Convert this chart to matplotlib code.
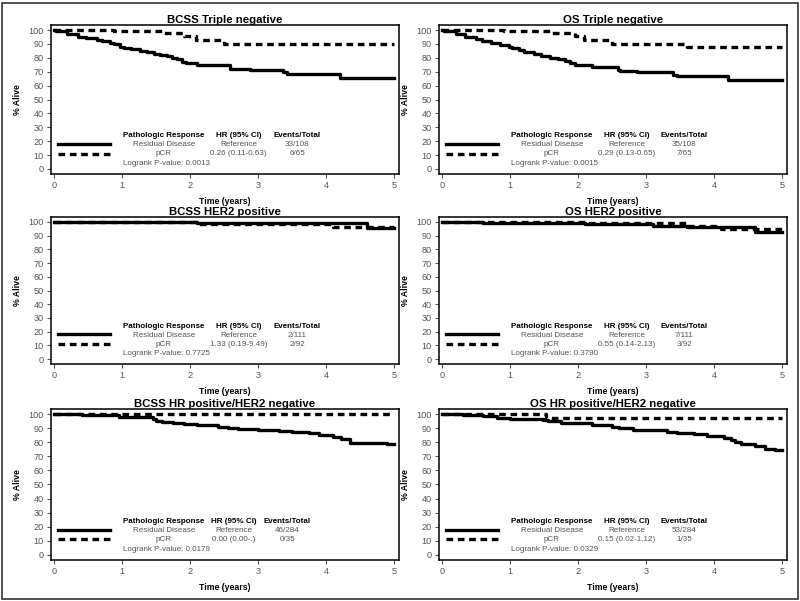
import matplotlib
matplotlib.use("Agg")
import matplotlib.pyplot as plt
from matplotlib.patches import Rectangle

plt.rcParams['font.family'] = ['Liberation Sans', 'DejaVu Sans']

# ---- data ----
titles = ["BCSS Triple negative", "OS Triple negative",
          "BCSS HER2 positive", "OS HER2 positive",
          "BCSS HR positive/HER2 negative", "OS HR positive/HER2 negative"]

# residual disease curves (step times, survival %)
res_t = [
    [0, 0.03, 0.19, 0.34, 0.46, 0.63, 0.7, 0.82, 0.87, 0.97, 1.03, 1.13, 1.26, 1.36, 1.46, 1.56,
     1.66, 1.73, 1.8, 1.88, 1.93, 2.1, 2.59, 2.88, 3.37, 3.42, 4.2, 5.0],
    [0, 0.02, 0.2, 0.33, 0.5, 0.58, 0.72, 0.85, 0.98, 1.03, 1.12, 1.2, 1.35, 1.45, 1.58, 1.7,
     1.8, 1.88, 1.95, 2.2, 2.58, 2.62, 2.87, 3.4, 3.45, 4.2, 5.0],
    [0, 2.1, 4.6, 5.0],
    [0, 0.6, 2.1, 3.1, 3.6, 4.6, 5.0],
    [0, 0.4, 0.75, 0.95, 1.45, 1.5, 1.58, 1.75, 1.9, 2.1, 2.4, 2.55, 2.7, 3.0, 3.3, 3.5, 3.75,
     3.9, 4.1, 4.22, 4.35, 4.55, 4.9, 5.0],
    [0, 0.3, 0.6, 0.8, 1.0, 1.48, 1.55, 1.75, 2.0, 2.2, 2.5, 2.6, 2.8, 3.0, 3.3, 3.45, 3.7,
     3.9, 4.15, 4.25, 4.3, 4.4, 4.6, 4.75, 4.9, 5.0],
]
res_s = [
    [100, 99, 97, 95, 94, 93, 92, 91, 90, 88, 87, 86, 85, 84, 83, 82,
     81, 80, 79, 77, 76, 75, 72, 71, 69.5, 68.3, 65.7, 65.7],
    [100, 99, 97, 95, 93.5, 92, 91, 89.5, 88, 87, 85.5, 84, 83, 81.5, 80, 79,
     77.5, 76, 74.5, 73.5, 71.5, 70.5, 69.5, 67.5, 66.8, 64.2, 64.2],
    [100, 98.9, 95.8, 95.8],
    [100, 99.3, 98.3, 97.4, 96.2, 93, 93],
    [100, 99.5, 99, 98, 96.5, 95, 94.5, 94, 93, 92.5, 91, 90, 89.5, 89, 88, 87, 86.5,
     85, 83.5, 82, 79.5, 79.5, 78.5, 78.5],
    [100, 99.5, 98.5, 97.5, 96.5, 96, 95, 94, 93.5, 92.5, 91, 90, 89, 88.5, 87.5, 86.5, 85.5,
     84.5, 83, 81.5, 80, 79, 77, 75.5, 74.5, 74.5],
]

# pCR curves
pcr_t = [
    [0, 0.87, 1.58, 1.9, 2.09, 2.5, 5.0],
    [0, 0.9, 1.6, 1.95, 2.08, 2.5, 3.6, 5.0],
    [0, 2.1, 4.1, 5.0],
    [0, 2.1, 3.6, 4.1, 5.0],
    [0, 5.0],
    [0, 1.52, 5.0],
]
pcr_s = [
    [100, 99, 97.5, 95.5, 92.5, 89.8, 89.8],
    [100, 99, 97.5, 95.5, 92.5, 90, 87.5, 87.5],
    [100, 98.8, 96, 96],
    [100, 98.9, 97.4, 94.8, 94.8],
    [100, 100],
    [100, 97, 97],
]

hr_text = ["0.26 (0.11-0.63)", "0.29 (0.13-0.65)", "1.33 (0.19-9.49)",
           "0.55 (0.14-2.13)", "0.00 (0.00-.)", "0.15 (0.02-1.12)"]
ev_res = ["33/108", "35/108", "2/111", "7/111", "46/284", "53/284"]
ev_pcr = ["6/65", "7/65", "2/92", "3/92", "0/35", "1/35"]
pvals = ["0.0013", "0.0015", "0.7725", "0.3790", "0.0179", "0.0329"]
hr_x = [2.71, 2.71, 2.71, 2.71, 2.64, 2.71]
ev_x = [3.57, 3.56, 3.57, 3.56, 3.43, 3.56]

W, H = 800, 601
fig = plt.figure(figsize=(8, 6.01), dpi=100)

# panel boxes in pixels: left, top, right, bottom
cols = [(51, 399), (439, 787)]
rows = [(25, 174), (217, 364), (409, 560)]

grey = "#555555"
dash = (0, (2.0, 1.4))

for k in range(6):
    r, c = divmod(k, 2)
    x0, x1 = cols[c]
    y0, y1 = rows[r]
    ax = fig.add_axes([x0 / W, 1 - y1 / H, (x1 - x0) / W, (y1 - y0) / H])
    ax.step(res_t[k], res_s[k], where='post', color='black', lw=2.4)
    ax.step(pcr_t[k], pcr_s[k], where='post', color='black', lw=2.4, linestyle=dash)

    ax.set_xlim(-0.05, 5.07)
    ax.set_ylim(-3.6, 103.6)
    ax.set_xticks(range(6))
    ax.set_yticks(range(0, 101, 10))
    ax.tick_params(direction='out', length=3, width=0.8, color=grey,
                   labelcolor=grey, labelsize=6.6, pad=2)
    for sp in ax.spines.values():
        sp.set_linewidth(1.1)
    ax.set_title(titles[k], fontsize=8.2, fontweight='bold', pad=1.5)
    ax.set_xlabel("Time (years)", fontsize=6.3, fontweight='bold', labelpad=5)
    ax.set_ylabel("% Alive", fontsize=6.3, fontweight='bold', labelpad=5)

    # legend table inside the plot
    ax.plot([0.06, 0.82], [18, 18], color='black', lw=2.4)
    ax.plot([0.06, 0.82], [11, 11], color='black', lw=2.4, linestyle=dash)
    fs = 5.8
    ax.text(1.61, 23.8, "Pathologic Response", fontsize=fs, fontweight='bold',
            ha='center', va='center')
    ax.text(hr_x[k], 23.8, "HR (95% CI)", fontsize=fs, fontweight='bold',
            ha='center', va='center')
    ax.text(ev_x[k], 23.8, "Events/Total", fontsize=fs, fontweight='bold',
            ha='center', va='center')
    ax.text(1.61, 17.5, "Residual Disease", fontsize=fs, color=grey, ha='center', va='center')
    ax.text(hr_x[k], 17.5, "Reference", fontsize=fs, color=grey, ha='center', va='center')
    ax.text(ev_x[k], 17.5, ev_res[k], fontsize=fs, color=grey, ha='center', va='center')
    ax.text(1.61, 10.8, "pCR", fontsize=fs, color=grey, ha='center', va='center')
    ax.text(hr_x[k], 10.8, hr_text[k], fontsize=fs, color=grey, ha='center', va='center')
    ax.text(ev_x[k], 10.8, ev_pcr[k], fontsize=fs, color=grey, ha='center', va='center')
    ax.text(1.01, 3.8, "Logrank P-value: " + pvals[k], fontsize=fs, color=grey,
            ha='left', va='center')

# outer frame
fig.patches.append(Rectangle((1.5 / W, 2.5 / H), 796 / W, 596 / H, transform=fig.transFigure,
                             fill=False, edgecolor='#333333', lw=1.2))

fig.savefig("out.png", dpi=100)
